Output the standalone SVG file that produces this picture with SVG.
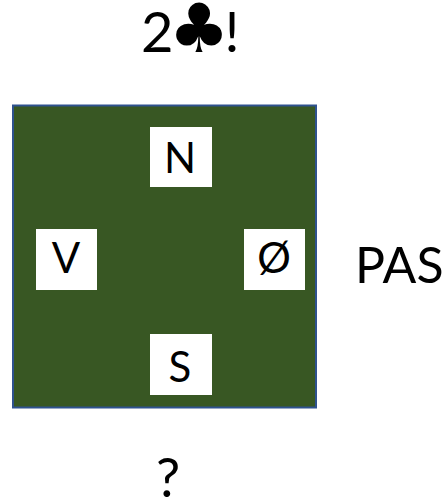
<svg xmlns="http://www.w3.org/2000/svg" width="446" height="503" viewBox="0 0 446 503">
<style>
.t{font-family:"Lato","Liberation Sans",sans-serif;fill:#000}
.box{fill:#fff}
.lbl{font-size:42px;text-anchor:middle}
</style>
<rect width="446" height="503" fill="#fff"/>
<g id="table">
<rect x="13" y="105.5" width="303" height="302" fill="#385723" stroke="#2F528F" stroke-width="2"/>
</g>
<g id="north"><rect class="box" x="150" y="127" width="62" height="60"/><text class="t lbl" x="180" y="173">N</text></g>
<g id="west"><rect class="box" x="36" y="229" width="61" height="61"/><text class="t lbl" x="66" y="273">V</text></g>
<g id="east"><rect class="box" x="244" y="229" width="61" height="61"/><text class="t lbl" x="274" y="273">Ø</text></g>
<g id="south"><rect class="box" x="150" y="334" width="62" height="61"/><text class="t lbl" x="180" y="382">S</text></g>
<g id="bid"><text class="t" x="141" y="52" font-size="56" letter-spacing="-5">2<tspan font-family="DejaVu Sans" font-size="68">♣</tspan>!</text></g>
<g id="pas"><text class="t" x="355" y="283" font-size="50">PAS</text></g>
<g id="question"><text class="t" x="168" y="497" font-size="54" text-anchor="middle">?</text></g>
<g id="connectors"></g>
</svg>
